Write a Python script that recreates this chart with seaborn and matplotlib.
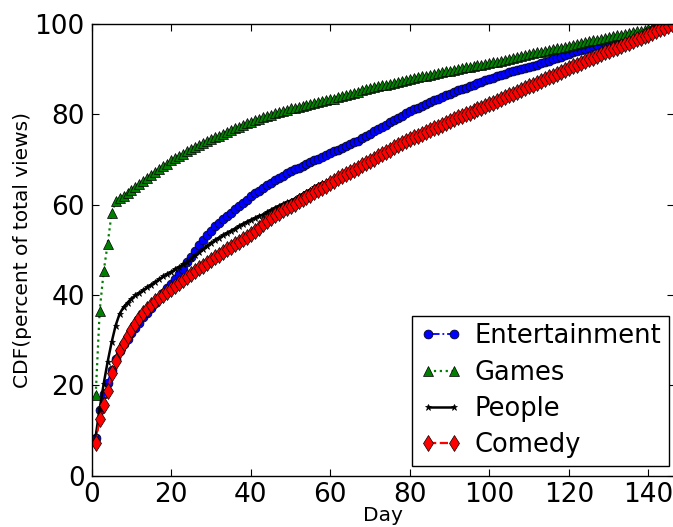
import numpy as np
import pandas as pd
import matplotlib
matplotlib.use("Agg")
import matplotlib.pyplot as plt
import seaborn as sns

# Cumulative share of total views per category, one value per day (days 1..146)
days = list(range(1, 147))

entertainment = [
    8.3, 14.6, 18.0, 20.6, 23.4, 25.9, 27.6, 29.1, 30.3, 31.5,
    32.7, 33.8, 35.0, 36.0, 37.2, 38.3, 39.4, 40.4, 41.5, 42.5,
    43.5, 44.6, 45.8, 47.2, 48.5, 49.8, 51.0, 52.1, 53.2, 54.2,
    55.2, 56.0, 56.8, 57.5, 58.2, 59.0, 59.7, 60.4, 61.1, 61.8,
    62.5, 63.1, 63.7, 64.3, 64.9, 65.4, 65.9, 66.4, 66.9, 67.4,
    67.8, 68.2, 68.6, 69.0, 69.4, 69.8, 70.2, 70.6, 71.0, 71.4,
    71.8, 72.2, 72.6, 73.0, 73.4, 73.8, 74.2, 74.7, 75.2, 75.7,
    76.2, 76.7, 77.2, 77.7, 78.2, 78.7, 79.2, 79.7, 80.2, 80.7,
    81.1, 81.5, 81.9, 82.3, 82.7, 83.1, 83.5, 83.9, 84.3, 84.6,
    84.9, 85.3, 85.6, 85.9, 86.3, 86.6, 86.9, 87.2, 87.5, 87.8,
    88.1, 88.4, 88.7, 89.0, 89.3, 89.6, 89.9, 90.1, 90.3, 90.5,
    90.8, 91.0, 91.3, 91.6, 91.9, 92.2, 92.5, 92.8, 93.1, 93.4,
    93.7, 94.0, 94.3, 94.5, 94.8, 95.1, 95.3, 95.6, 95.8, 96.1,
    96.3, 96.6, 96.8, 97.0, 97.3, 97.5, 97.7, 97.9, 98.1, 98.3,
    98.6, 98.9, 99.2, 99.5, 99.8, 100.0,
]

games = [
    17.9, 36.5, 45.2, 51.3, 58.1, 60.7, 61.4, 62.0, 62.6, 63.2,
    63.9, 64.6, 65.3, 65.9, 66.6, 67.2, 67.9, 68.5, 69.1, 69.8,
    70.3, 70.8, 71.3, 71.8, 72.3, 72.8, 73.2, 73.7, 74.1, 74.5,
    74.9, 75.3, 75.7, 76.1, 76.5, 76.9, 77.3, 77.6, 78.0, 78.3,
    78.7, 79.0, 79.3, 79.6, 79.9, 80.2, 80.5, 80.8, 81.0, 81.3,
    81.5, 81.7, 81.9, 82.1, 82.3, 82.5, 82.7, 82.9, 83.1, 83.3,
    83.5, 83.8, 84.0, 84.3, 84.5, 84.8, 85.0, 85.3, 85.5, 85.8,
    86.0, 86.2, 86.4, 86.6, 86.8, 87.0, 87.2, 87.4, 87.6, 87.8,
    88.0, 88.2, 88.4, 88.6, 88.8, 89.0, 89.2, 89.3, 89.5, 89.7,
    89.9, 90.0, 90.2, 90.4, 90.5, 90.7, 90.9, 91.0, 91.2, 91.4,
    91.5, 91.7, 91.9, 92.1, 92.3, 92.5, 92.7, 92.9, 93.1, 93.3,
    93.5, 93.7, 93.8, 94.0, 94.2, 94.4, 94.6, 94.8, 95.0, 95.2,
    95.4, 95.6, 95.8, 96.0, 96.2, 96.4, 96.5, 96.7, 96.9, 97.1,
    97.3, 97.5, 97.6, 97.8, 98.0, 98.2, 98.4, 98.5, 98.7, 98.9,
    99.1, 99.3, 99.5, 99.6, 99.8, 100.0,
]

people = [
    8.7, 14.8, 20.3, 25.2, 29.5, 33.2, 35.8, 37.3, 38.3, 39.2,
    39.9, 40.5, 41.1, 41.7, 42.3, 42.9, 43.5, 44.1, 44.6, 45.1,
    45.7, 46.2, 46.8, 47.4, 48.1, 48.8, 49.5, 50.2, 50.9, 51.5,
    52.1, 52.7, 53.2, 53.7, 54.2, 54.7, 55.2, 55.7, 56.2, 56.6,
    57.0, 57.4, 57.8, 58.3, 58.8, 59.3, 59.7, 60.1, 60.5, 60.9,
    61.3, 61.8, 62.3, 62.8, 63.3, 63.8, 64.3, 64.7, 65.1, 65.5,
    65.6, 66.1, 66.6, 67.1, 67.6, 68.0, 68.5, 69.0, 69.5, 70.0,
    70.5, 71.0, 71.5, 72.0, 72.5, 73.0, 73.5, 74.0, 74.4, 74.8,
    75.2, 75.6, 76.0, 76.4, 76.8, 77.2, 77.6, 78.0, 78.4, 78.8,
    79.2, 79.6, 79.9, 80.3, 80.7, 81.1, 81.5, 81.8, 82.2, 82.5,
    82.9, 83.3, 83.7, 84.1, 84.5, 84.9, 85.3, 85.7, 86.1, 86.5,
    86.9, 87.3, 87.7, 88.1, 88.5, 88.9, 89.3, 89.7, 90.1, 90.5,
    90.8, 91.2, 91.6, 92.0, 92.4, 92.7, 93.1, 93.5, 93.9, 94.2,
    94.6, 95.0, 95.3, 95.7, 96.1, 96.4, 96.8, 97.1, 97.5, 97.8,
    98.2, 98.5, 98.9, 99.3, 99.6, 100.0,
]

comedy = [
    7.2, 12.6, 15.7, 18.7, 22.6, 25.3, 27.9, 29.4, 30.9, 32.3,
    33.6, 34.8, 35.9, 36.9, 37.8, 38.6, 39.3, 40.0, 40.7, 41.3,
    41.9, 42.6, 43.3, 43.9, 44.6, 45.2, 45.9, 46.5, 47.1, 47.7,
    48.3, 48.9, 49.5, 50.1, 50.7, 51.3, 51.8, 52.4, 52.9, 53.5,
    54.2, 54.9, 55.6, 56.3, 57.0, 57.6, 58.2, 58.7, 59.2, 59.7,
    60.2, 60.7, 61.2, 61.7, 62.2, 62.7, 63.2, 63.7, 64.2, 64.7,
    65.3, 65.8, 66.3, 66.8, 67.3, 67.7, 68.2, 68.7, 69.2, 69.7,
    70.2, 70.7, 71.2, 71.7, 72.2, 72.7, 73.2, 73.7, 74.1, 74.5,
    74.9, 75.3, 75.7, 76.1, 76.5, 76.9, 77.3, 77.7, 78.1, 78.5,
    78.9, 79.3, 79.6, 80.0, 80.4, 80.8, 81.2, 81.5, 81.9, 82.2,
    82.6, 83.0, 83.4, 83.8, 84.2, 84.6, 85.0, 85.4, 85.8, 86.2,
    86.6, 87.0, 87.4, 87.8, 88.2, 88.6, 89.0, 89.4, 89.8, 90.2,
    90.6, 91.0, 91.4, 91.8, 92.2, 92.5, 92.9, 93.3, 93.7, 94.0,
    94.4, 94.8, 95.1, 95.5, 95.9, 96.2, 96.6, 96.9, 97.3, 97.6,
    98.0, 98.4, 98.8, 99.2, 99.6, 100.0,
]

x_ticks = [0, 20, 40, 60, 80, 100, 120, 140]
y_ticks = [0, 20, 40, 60, 80, 100]

sns.set_style("ticks")
plt.rcParams["font.family"] = ["DejaVu Sans"]
plt.rcParams["xtick.direction"] = "in"
plt.rcParams["ytick.direction"] = "in"
plt.rcParams["text.color"] = "black"
plt.rcParams["axes.labelcolor"] = "black"
plt.rcParams["xtick.color"] = "black"
plt.rcParams["ytick.color"] = "black"

fig = plt.figure(figsize=(6.73, 5.27), dpi=100)
ax = fig.add_axes([0.1363, 0.0977, 0.8645, 0.8567])

series = [
    ("Entertainment", entertainment, dict(color="#0000ff", linestyle="-.", marker="o", markersize=6.4, linewidth=1.3)),
    ("Games", games, dict(color="#007f00", linestyle=":", marker="^", markersize=6.8, linewidth=1.6)),
    ("People", people, dict(color="black", linestyle="-", marker="*", markersize=5, linewidth=1.8)),
    ("Comedy", comedy, dict(color="#ff0000", linestyle="--", marker="d", markersize=8.5, linewidth=1.6)),
]

for name, vals, style in series:
    df = pd.DataFrame({"Day": days, "CDF": vals})
    sns.lineplot(data=df, x="Day", y="CDF", ax=ax, label=name,
                 estimator=None, errorbar=None, sort=False,
                 markeredgecolor="black", markeredgewidth=0.5, **style)

ax.set_xlim(0, 146.3)
ax.set_ylim(0, 100)
ax.set_xticks(x_ticks)
ax.set_yticks(y_ticks)
ax.tick_params(axis="both", which="major", labelsize=19, length=5, width=0.8,
               top=True, right=True, pad=5, colors="black")
for sp in ax.spines.values():
    sp.set_visible(True)
    sp.set_color("black")
    sp.set_linewidth(1.0)

ax.set_xlabel("Day", fontsize=14.5, labelpad=-2)
ax.set_ylabel("CDF(percent of total views)", fontsize=14.5, labelpad=2)

leg = ax.legend(loc="lower right", bbox_to_anchor=(0.9915, 0.021), numpoints=2,
                fontsize=18.5, handlelength=1.6, handletextpad=0.5,
                labelspacing=0.4, borderpad=0.3, borderaxespad=0.0,
                fancybox=False, framealpha=1.0, edgecolor="black",
                labelcolor="black")
leg.get_frame().set_linewidth(1.0)

fig.savefig("out.png", dpi=100)
